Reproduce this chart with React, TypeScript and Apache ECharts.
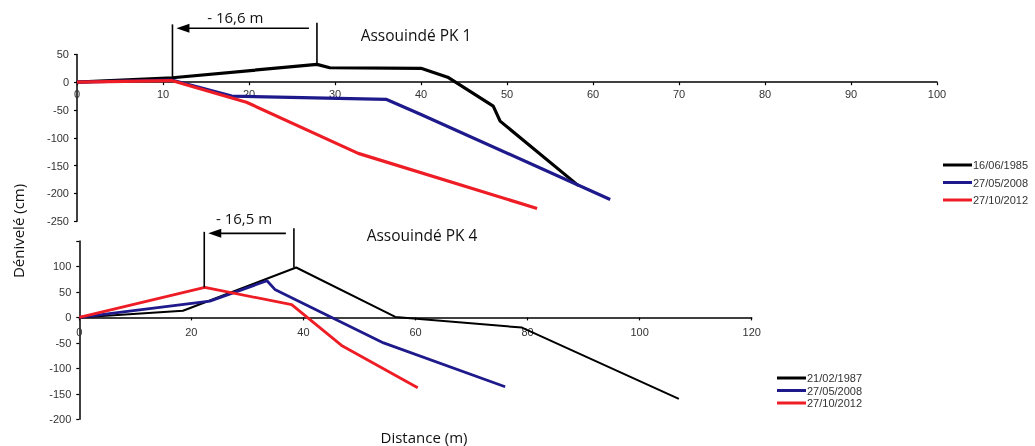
import React, { useEffect, useRef } from 'react';
import * as echarts from 'echarts';

// ---- Assouindé PK 1 (top) ----
const pk1Names = ['16/06/1985', '27/05/2008', '27/10/2012'];
const pk1_1985: [number, number][] = [[0, 0], [11.1, 8], [27.9, 32], [29.4, 26], [40, 25], [43.1, 9], [48.4, -43], [49.2, -70], [58.3, -186]];
const pk1_2008: [number, number][] = [[0, 0], [11, 4], [18, -25], [36, -31], [40, -58], [62, -211]];
const pk1_2012: [number, number][] = [[0, 0], [11, 3], [19.7, -36], [32.7, -128], [53.5, -227]];

// ---- Assouindé PK 4 (bottom) ----
const pk4Names = ['21/02/1987', '27/05/2008', '27/10/2012'];
const pk4_1987: [number, number][] = [[0, 0], [18.5, 13], [38.7, 98], [56.4, 1], [79, -20], [107, -160]];
const pk4_2008: [number, number][] = [[0, 0], [23.3, 32], [33.5, 72], [34.9, 55], [54.3, -50], [76, -136]];
const pk4_2012: [number, number][] = [[0, 0], [22.4, 59], [37.9, 25], [46.8, -55], [60.4, -138]];

// shoreline retreat annotations (data units)
const annot1 = { leftX: 11.1, leftBottom: 8, rightX: 27.9, rightBottom: 32, leftTop: 104, rightTop: 107, arrowY: 97, label: '- 16,6 m', labelX: 18.4, labelY: 118 };
const annot2 = { leftX: 22.3, leftBottom: 59, rightX: 38.3, rightBottom: 98, leftTop: 168, rightTop: 175, arrowY: 165, label: '- 16,5 m', labelX: 29.4, labelY: 195 };

const titles = ['Assouindé PK 1', 'Assouindé PK 4'];
const colors = ['#000000', '#1e1a8c', '#ee1c24'];

const axisFont = 'Liberation Sans, Arial, sans-serif';
const textFont = 'Open Sans, Noto Sans, sans-serif';

export default function App() {
  const ref = useRef<HTMLDivElement>(null);
  useEffect(() => {
    const chart = echarts.init(ref.current!, null, { renderer: 'svg' });
    const axisLine = { show: true, onZero: true, lineStyle: { color: '#000', width: 1.5 } };
    const axisTick = { show: true, length: 3, lineStyle: { color: '#000', width: 1.2 } };
    const axisLabel = { color: '#333', fontSize: 11, fontFamily: axisFont };
    const mk = (name: string, data: [number, number][], idx: number, ci: number, width: number) => ({
      type: 'line', name, data, xAxisIndex: idx, yAxisIndex: idx, showSymbol: false, symbol: 'none',
      lineStyle: { color: colors[ci], width }, itemStyle: { color: colors[ci] }, z: 3 + (ci === 0 ? 0 : ci),
    });
    const option: any = {
      animation: false,
      grid: [
        { left: 77, top: 54.4, width: 860, height: 166.8 },
        { left: 79.3, top: 241, width: 672.4, height: 178.3 },
      ],
      xAxis: [
        { type: 'value', gridIndex: 0, min: 0, max: 100, interval: 10, splitLine: { show: false }, axisLine, axisTick, axisLabel: { ...axisLabel } },
        { type: 'value', gridIndex: 1, min: 0, max: 120, interval: 20, splitLine: { show: false }, axisLine, axisTick, axisLabel: { ...axisLabel } },
      ],
      yAxis: [
        { type: 'value', gridIndex: 0, min: -250, max: 50, interval: 50, splitLine: { show: false }, axisLine: { ...axisLine, onZero: false }, axisTick, axisLabel: { ...axisLabel, margin: 8 } },
        { type: 'value', gridIndex: 1, min: -200, max: 150, interval: 50, splitLine: { show: false }, axisLine: { ...axisLine, onZero: false }, axisTick,
          axisLabel: { ...axisLabel, margin: 8, formatter: (v: number) => (v === 150 ? '' : String(v)) } },
      ],
      legend: [
        { orient: 'vertical', left: 938, top: 154, data: pk1Names, icon: 'rect', itemWidth: 29, itemHeight: 3, itemGap: 5.5,
          textStyle: { fontSize: 11, color: '#333', fontFamily: axisFont, lineHeight: 12, padding: [0, 0, 0, -4] }, selectedMode: false },
        { orient: 'vertical', left: 772, top: 367, data: pk4Names, icon: 'rect', itemWidth: 29, itemHeight: 3, itemGap: 0.5,
          textStyle: { fontSize: 11, color: '#333', fontFamily: axisFont, lineHeight: 12, padding: [0, 0, 0, -4] }, selectedMode: false },
      ],
      series: [
        mk(pk1Names[0], pk1_1985, 0, 0, 3.2),
        mk(pk1Names[1], pk1_2008, 0, 1, 3.2),
        mk(pk1Names[2], pk1_2012, 0, 2, 3.2),
        mk(pk4Names[0], pk4_1987, 1, 0, 2),
        mk(pk4Names[1], pk4_2008, 1, 1, 2.8),
        mk(pk4Names[2], pk4_2012, 1, 2, 2.8),
      ],
    };
    chart.setOption(option);

    const px = (g: number, pt: [number, number]) => chart.convertToPixel({ gridIndex: g } as any, pt) as number[];

    // x-axis labels sit just under the zero line: shift them up from the grid's bottom edge
    const gridBottom = (g: number, yMin: number) => px(g, [0, yMin])[1];
    const zeroY = (g: number) => px(g, [0, 0])[1];
    chart.setOption({
      xAxis: [
        { axisLabel: { margin: zeroY(0) + 6 - gridBottom(0, -250) } },
        { axisLabel: { margin: zeroY(1) + 9 - gridBottom(1, -200) } },
      ],
    });

    const annotGraphics = (g: number, a: typeof annot1) => {
      const lb = px(g, [a.leftX, a.leftBottom]);
      const lt = px(g, [a.leftX, a.leftTop]);
      const rb = px(g, [a.rightX, a.rightBottom]);
      const rt = px(g, [a.rightX, a.rightTop]);
      const ay = px(g, [a.leftX, a.arrowY])[1];
      const tipX = lb[0] + 4;
      const startX = rb[0] - 8;
      const lab = px(g, [a.labelX, a.labelY]);
      const ls = { stroke: '#000', lineWidth: 1.6 };
      return [
        { type: 'line', shape: { x1: lb[0], y1: lb[1], x2: lt[0], y2: lt[1] }, style: ls, z: 10 },
        { type: 'line', shape: { x1: rb[0], y1: rb[1], x2: rt[0], y2: rt[1] }, style: ls, z: 10 },
        { type: 'line', shape: { x1: startX, y1: ay, x2: tipX + 10, y2: ay }, style: ls, z: 10 },
        { type: 'polygon', shape: { points: [[tipX, ay], [tipX + 13, ay - 4.5], [tipX + 13, ay + 4.5]] }, style: { fill: '#000' }, z: 10 },
        { type: 'text', x: lab[0], y: lab[1], style: { text: a.label, font: `15px ${textFont}`, fill: '#111', align: 'center', verticalAlign: 'middle' }, z: 10 },
      ];
    };
    chart.setOption({
      graphic: [
        ...annotGraphics(0, annot1),
        ...annotGraphics(1, annot2),
        { type: 'text', x: 416, y: 35, style: { text: titles[0], font: `15.5px ${textFont}`, fill: '#111', align: 'center', verticalAlign: 'middle' } },
        { type: 'text', x: 422, y: 235, style: { text: titles[1], font: `15.5px ${textFont}`, fill: '#111', align: 'center', verticalAlign: 'middle' } },
        { type: 'text', x: 18, y: 231, rotation: Math.PI / 2, style: { text: 'Dénivelé (cm)', font: `15px ${textFont}`, fill: '#111', align: 'center', verticalAlign: 'middle' } },
        { type: 'text', x: 424, y: 437, style: { text: 'Distance (m)', font: `15px ${textFont}`, fill: '#111', align: 'center', verticalAlign: 'middle' } },
      ],
    });
    return () => chart.dispose();
  }, []);
  return <div ref={ref} style={{ position: 'fixed', left: 0, top: 0, width: 1035, height: 446 }} />;
}
